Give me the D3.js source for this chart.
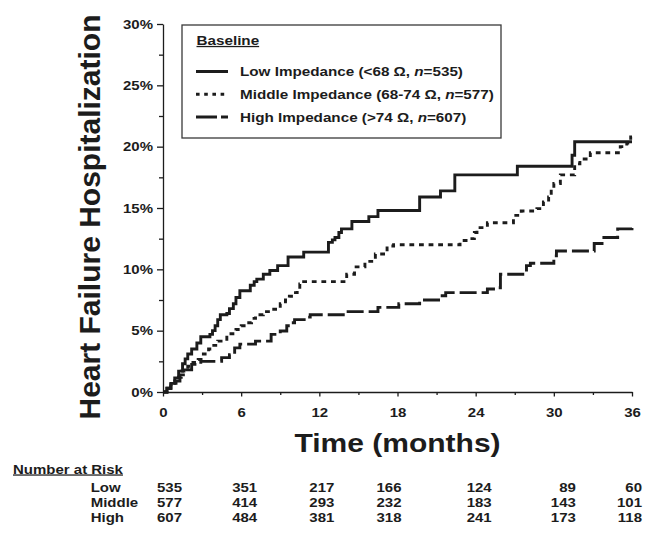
<!DOCTYPE html>
<html>
<head>
<meta charset="utf-8">
<script src="https://cdn.jsdelivr.net/npm/d3@7"></script>
<style>
  html, body { margin: 0; padding: 0; background: #fff; }
  svg { display: block; font-family: "Liberation Sans", Arial, sans-serif; font-weight: bold; }
</style>
</head>
<body>
<svg id="chart" width="648" height="534"></svg>
<script>
// Datos (meses, % acumulado)
const groupNames = ['Low', 'Middle', 'High'];
const groupRanges = ['<68', '68-74', '>74'];
const groupN = [535, 577, 607];

const lowT = [0, 0.3, 0.6, 0.9, 1.2, 1.5, 1.7, 1.9, 2.2, 2.6, 2.9, 3.6, 3.8, 4.0, 4.2, 4.4, 4.9, 5.1, 5.4, 5.6, 5.9,
  6.7, 7.0, 7.2, 7.7, 8.2, 8.8, 9.6, 10.8, 12.7, 13.0, 13.2, 13.5, 13.7, 14.5, 15.8, 16.5, 19.7, 21.3, 22.4, 27.2,
  31.4, 31.6, 36];
const lowP = [0, 0.3, 0.7, 1.15, 1.7, 2.3, 2.7, 3.1, 3.5, 4.0, 4.5, 4.7, 5.0, 5.4, 5.9, 6.3, 6.4, 6.8, 7.2, 7.7, 8.25,
  8.7, 9.0, 9.2, 9.6, 9.9, 10.3, 11.0, 11.4, 12.2, 12.4, 12.6, 13.0, 13.3, 13.9, 14.3, 14.8, 15.9, 16.4, 17.7, 18.4,
  19.3, 20.4, 20.4];

const midT = [0, 0.3, 0.6, 1.0, 1.4, 1.9, 2.3, 2.7, 3.1, 3.5, 3.9, 4.2, 4.9, 5.6, 6.0, 6.4, 6.8, 7.1, 7.7, 8.5, 9.0,
  9.4, 9.7, 10.0, 10.3, 10.5, 10.6, 14.1, 14.7, 15.5, 16.3, 17.2, 17.7, 22.8, 23.6, 23.9, 24.1, 24.9, 26.9, 27.5,
  28.7, 29.2, 29.6, 29.8, 30.0, 30.5, 31.6, 32.0, 32.8, 35.1, 35.6, 35.9, 36];
const midP = [0, 0.3, 0.7, 1.2, 1.7, 2.1, 2.4, 2.65, 3.1, 3.5, 3.8, 4.15, 4.75, 5.1, 5.4, 5.65, 6.0, 6.3, 6.55, 6.75, 7.2,
  7.5, 7.8, 8.1, 8.4, 8.8, 9.0, 9.6, 10.2, 10.65, 11.25, 11.9, 12.0, 12.35, 12.5, 13.0, 13.4, 13.8, 14.4, 14.75,
  14.95, 15.5, 15.9, 16.5, 17.0, 17.7, 18.6, 19.0, 19.5, 20.0, 20.3, 20.8, 20.8];

const highT = [0, 0.3, 0.6, 0.9, 1.3, 1.7, 2.2, 2.9, 4.5, 5.1, 5.5, 5.9, 7.1, 8.3, 9.0, 9.5, 10.0, 10.1, 11.0, 11.3,
  14.0, 16.5, 18.1, 19.7, 21.3, 21.7, 24.9, 25.5, 25.9, 27.9, 28.2, 30.0, 30.2, 33.1, 33.7, 34.9, 36];
const highP = [0, 0.3, 0.6, 0.9, 1.4, 1.8, 2.25, 2.5, 2.8, 3.05, 3.6, 3.9, 4.15, 4.7, 4.97, 5.4, 5.65, 5.9, 6.1, 6.3,
  6.55, 6.9, 7.2, 7.5, 7.85, 8.1, 8.4, 8.5, 9.6, 10.3, 10.5, 11.1, 11.5, 12.1, 12.6, 13.3, 13.4];

const xTicks = [0, 6, 12, 18, 24, 30, 36];
const yTicks = [0, 5, 10, 15, 20, 25, 30];
const riskLow = [535, 351, 217, 166, 124, 89, 60];
const riskMid = [577, 414, 293, 232, 183, 143, 101];
const riskHigh = [607, 484, 381, 318, 241, 173, 118];

// Estilos y posiciones
const SX = 1.2;            // el original está estirado en horizontal
const ink = '#1c1c1c';
const dashes = [null, '4.8,4.8', '17,5'];
const legendDashes = [null, '3.6,4.6', '21,4'];
const riskNudge = [19, 16, 15, 4, 16, 22, 10];

const svg = d3.select('#chart');
const x = d3.scaleLinear().domain([0, 36]).range([163, 632]);
const y = d3.scaleLinear().domain([0, 30]).range([392, 24]);

function label(parent, px, py, size, anchor) {
  return parent.append('g')
    .attr('transform', `translate(${px},${py}) scale(${SX},1)`)
    .append('text')
      .attr('font-size', size)
      .attr('text-anchor', anchor || 'start')
      .attr('fill', ink);
}

// Ejes
const yAxis = svg.append('g')
  .attr('transform', `translate(${x(0)},0)`)
  .call(d3.axisLeft(y).tickValues(yTicks).tickSize(6).tickSizeOuter(0).tickFormat(d => d + '%'));
yAxis.selectAll('text')
  .attr('x', -10 / SX)
  .attr('transform', `scale(${SX},1)`)
  .attr('font-size', 12.5).attr('fill', ink);

svg.append('g')
  .attr('transform', `translate(${x(0)},0)`)
  .call(d3.axisLeft(y).tickValues(d3.range(2.5, 30, 5)).tickSize(4).tickFormat(''))
  .select('.domain').remove();

const xAxis = svg.append('g')
  .attr('transform', `translate(0,${y(0)})`)
  .call(d3.axisBottom(x).tickValues(xTicks).tickSize(4.5).tickSizeOuter(0));
xAxis.selectAll('text')
  .attr('x', 0)
  .attr('y', 16)
  .attr('transform', `scale(${SX},1)`)
  .attr('font-size', 12.5).attr('fill', ink);

svg.append('g')
  .attr('transform', `translate(0,${y(0)})`)
  .call(d3.axisBottom(x).tickValues(d3.range(3, 36, 6)).tickSize(3).tickFormat(''))
  .select('.domain').remove();

svg.selectAll('g.tick text').attr('font-family', null);
svg.selectAll('.domain, .tick line').attr('stroke', ink).attr('stroke-width', 1.3);

// Curvas
const line = d3.line()
  .x(d => x(d[0]))
  .y(d => y(d[1]))
  .curve(d3.curveStepAfter);

const series = [
  d3.zip(lowT, lowP),
  d3.zip(midT, midP),
  d3.zip(highT, highP)
];

svg.append('g')
  .selectAll('path')
  .data(series)
  .join('path')
    .attr('d', line)
    .attr('fill', 'none')
    .attr('stroke', ink)
    .attr('stroke-width', 2.9)
    .attr('stroke-dasharray', (d, i) => dashes[i]);

// Leyenda
const legend = svg.append('g');
legend.append('rect')
  .attr('x', 182).attr('y', 25).attr('width', 319).attr('height', 113)
  .attr('fill', '#fff').attr('stroke', '#3a3a3a').attr('stroke-width', 1.3);

label(legend, 196.5, 45, 12.7).text('Baseline').attr('text-decoration', 'underline');

groupNames.forEach((g, i) => {
  const by = 76 + i * 22.8;
  legend.append('line')
    .attr('x1', 196).attr('x2', 228).attr('y1', by - 4.5).attr('y2', by - 4.5)
    .attr('stroke', ink).attr('stroke-width', 3)
    .attr('stroke-dasharray', legendDashes[i]);
  const t = label(legend, 240, by, 12.7);
  t.append('tspan').text(`${g} Impedance (${groupRanges[i]} Ω, `);
  t.append('tspan').attr('font-style', 'italic').text('n');
  t.append('tspan').text(`=${groupN[i]})`);
});

// Títulos
svg.append('g')
  .attr('transform', `translate(100,217) scale(${SX},1) rotate(-90)`)
  .append('text')
    .attr('text-anchor', 'middle')
    .attr('font-size', 25)
    .attr('textLength', 405)
    .attr('lengthAdjust', 'spacingAndGlyphs')
    .attr('fill', ink)
    .text('Heart Failure Hospitalization');

label(svg, (x(0) + x(36)) / 2, 451.5, 25, 'middle').text('Time (months)');

// Tabla de pacientes en riesgo
label(svg, 13, 473.5, 12.5).text('Number at Risk').attr('text-decoration', 'underline');

[riskLow, riskMid, riskHigh].forEach((row, r) => {
  const by = 492 + r * 15;
  label(svg, 90.7, by, 12.5).text(groupNames[r]);
  row.forEach((v, i) => {
    label(svg, x(xTicks[i]) + riskNudge[i], by, 12.5, 'end').text(v);
  });
});
</script>
</body>
</html>
